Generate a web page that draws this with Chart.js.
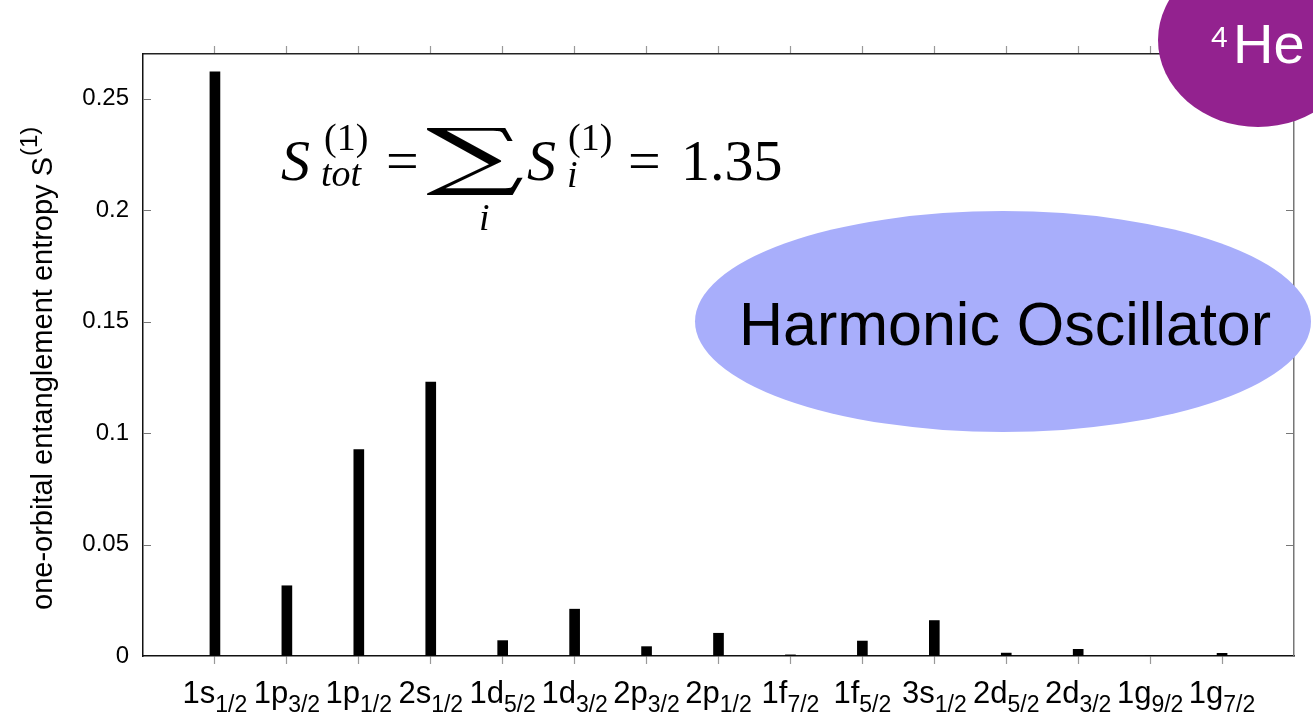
<!DOCTYPE html>
<html>
<head>
<meta charset="utf-8">
<script src="https://cdn.jsdelivr.net/npm/chart.js@4.4.1/dist/chart.umd.min.js"></script>
<style>
  html, body { margin: 0; padding: 0; background: #fff; }
  #wrap { width: 1313px; height: 727px; }
</style>
</head>
<body>
<div id="wrap"><canvas id="myChart" width="1313" height="727"></canvas></div>
<script>
// orbital labels: main part + j subscript
const orbitals = ['1s', '1p', '1p', '2s', '1d', '1d', '2p', '2p', '1f', '1f', '3s', '2d', '2d', '1g', '1g'];
const orbitalJ = ['1/2', '3/2', '1/2', '1/2', '5/2', '3/2', '3/2', '1/2', '7/2', '5/2', '1/2', '5/2', '3/2', '9/2', '7/2'];
// one-orbital entanglement entropy per orbital
const entropy = [0.262, 0.0315, 0.0926, 0.1229, 0.0069, 0.0210, 0.0042, 0.0102, 0.0005, 0.0067, 0.0159, 0.0013, 0.0030, 0.0, 0.0012];
const yTicks = [0, 0.05, 0.1, 0.15, 0.2, 0.25];
const yMax = 0.27;

const SANS = '"Liberation Sans", Arial, sans-serif';
const SERIF = '"Liberation Serif", "Times New Roman", serif';

const ctx = document.getElementById('myChart').getContext('2d');

function drawRun(c, text, font, x, y, color) {
    c.font = font;
    c.fillStyle = color || '#000';
    c.textAlign = 'left';
    c.textBaseline = 'alphabetic';
    c.fillText(text, x, y);
    return c.measureText(text).width;
}

// stretch a glyph so its ink fills the given box
function fitGlyph(c, text, font, x0, y0, x1, y1) {
    c.save();
    c.font = font;
    const m = c.measureText(text);
    const w = m.actualBoundingBoxLeft + m.actualBoundingBoxRight;
    const h = m.actualBoundingBoxAscent + m.actualBoundingBoxDescent;
    c.translate(x0, y0);
    c.scale((x1 - x0) / w, (y1 - y0) / h);
    c.fillStyle = '#000';
    c.textBaseline = 'alphabetic';
    c.fillText(text, m.actualBoundingBoxLeft, m.actualBoundingBoxAscent);
    c.restore();
}

const decorations = {
    id: 'decorations',
    afterDraw(chart) {
        const c = chart.ctx;
        const xs = chart.scales.x;
        const ys = chart.scales.y;
        const area = chart.chartArea;

        c.save();
        // inward y ticks on both sides
        c.strokeStyle = '#777';
        c.lineWidth = 1.2;
        yTicks.forEach((v) => {
            if (v === 0) return;
            const py = Math.round(ys.getPixelForValue(v)) + 0.5;
            c.beginPath();
            c.moveTo(area.left, py);
            c.lineTo(area.left + 8, py);
            c.moveTo(area.right, py);
            c.lineTo(area.right - 8, py);
            c.stroke();
        });

        // x labels with subscripts
        const mainFont = '31px ' + SANS;
        const subFont = '23px ' + SANS;
        orbitals.forEach((name, i) => {
            const px = xs.getPixelForValue(i);
            c.font = mainFont;
            const w1 = c.measureText(name).width;
            c.font = subFont;
            const w2 = c.measureText(orbitalJ[i]).width;
            const x0 = px - (w1 + w2) / 2;
            drawRun(c, name, mainFont, x0, 703);
            drawRun(c, orbitalJ[i], subFont, x0 + w1, 712);
        });

        // y axis title, rotated
        c.save();
        c.translate(52, 610);
        c.rotate(-Math.PI / 2);
        const tw = drawRun(c, 'one-orbital entanglement entropy S', '29px ' + SANS, 0, 0);
        drawRun(c, '(1)', '24px ' + SANS, tw + 1, -15);
        c.restore();

        // formula S_tot = sum_i S_i = 1.35
        const big = 'italic 58px ' + SERIF;
        const small = 'italic 38px ' + SERIF;
        const smallUp = '38px ' + SERIF;
        drawRun(c, 'S', big, 281, 180);
        drawRun(c, '(1)', smallUp, 324, 150);
        drawRun(c, 'tot', small, 321, 186);
        drawRun(c, '=', '58px ' + SERIF, 386, 180);
        fitGlyph(c, '\u2211', '90px "DejaVu Serif", serif', 426, 128, 524, 196);
        drawRun(c, 'i', small, 479, 230);
        drawRun(c, 'S', big, 527, 180);
        drawRun(c, '(1)', smallUp, 568, 150);
        drawRun(c, 'i', small, 567, 187);
        drawRun(c, '=', '58px ' + SERIF, 628, 180);
        drawRun(c, '1.35', '58px ' + SERIF, 681, 180);

        // method badge
        c.fillStyle = '#a8aefb';
        c.beginPath();
        c.ellipse(1003, 321.5, 308, 110.5, 0, 0, Math.PI * 2);
        c.fill();
        c.font = '61px ' + SANS;
        c.fillStyle = '#000';
        c.textAlign = 'center';
        c.fillText('Harmonic Oscillator', 1005, 345);

        // nucleus badge
        c.fillStyle = '#93228f';
        c.beginPath();
        c.ellipse(1258, 40, 100, 87, 0, 0, Math.PI * 2);
        c.fill();
        drawRun(c, '4', '30px ' + SANS, 1211, 47, '#fff');
        drawRun(c, 'He', '56px ' + SANS, 1233, 63, '#fff');
        c.restore();
    }
};

const tickIndex = (scale) => { scale.ticks = orbitals.map((_, i) => ({ value: i })); };

const myChart = new Chart(ctx, {
    type: 'bar',
    data: {
        datasets: [
            {
                data: entropy.map((v, i) => ({ x: i, y: v })),
                backgroundColor: '#000',
                borderWidth: 0,
                barThickness: 10,
            },
        ],
    },
    options: {
        responsive: false,
        animation: false,
        devicePixelRatio: 1,
        layout: { padding: 0 },
        plugins: {
            legend: { display: false },
            tooltip: { enabled: false },
        },
        scales: {
            x: {
                type: 'linear',
                position: 'bottom',
                min: -1,
                max: 15,
                offset: false,
                afterBuildTicks: tickIndex,
                afterFit: (s) => { s.height = 71; },
                ticks: { callback: () => '' },
                grid: { offset: false, drawOnChartArea: false, tickLength: 8, tickColor: '#999', tickWidth: 1.2 },
                border: { color: '#111', width: 1.5 },
            },
            xTop: {
                type: 'linear',
                position: 'top',
                min: -1,
                max: 15,
                offset: false,
                afterBuildTicks: tickIndex,
                afterFit: (s) => { s.height = 54; },
                ticks: { callback: () => '' },
                grid: { offset: false, drawOnChartArea: false, tickLength: 8, tickColor: '#999', tickWidth: 1.2 },
                border: { color: '#222', width: 1.5 },
            },
            y: {
                type: 'linear',
                position: 'left',
                min: 0,
                max: yMax,
                afterBuildTicks: (s) => { s.ticks = yTicks.map((v) => ({ value: v })); },
                afterFit: (s) => { s.width = 143; },
                ticks: {
                    color: '#000',
                    padding: 14,
                    font: { family: SANS, size: 24 },
                    callback: (v) => String(v),
                },
                grid: { drawOnChartArea: false, drawTicks: false },
                border: { color: '#111', width: 1.5 },
            },
            yRight: {
                type: 'linear',
                position: 'right',
                min: 0,
                max: yMax,
                afterFit: (s) => { s.width = 19; },
                ticks: { display: false },
                grid: { display: false },
                border: { color: '#777', width: 1.5 },
            },
        },
    },
    plugins: [decorations],
});
</script>
</body>
</html>
